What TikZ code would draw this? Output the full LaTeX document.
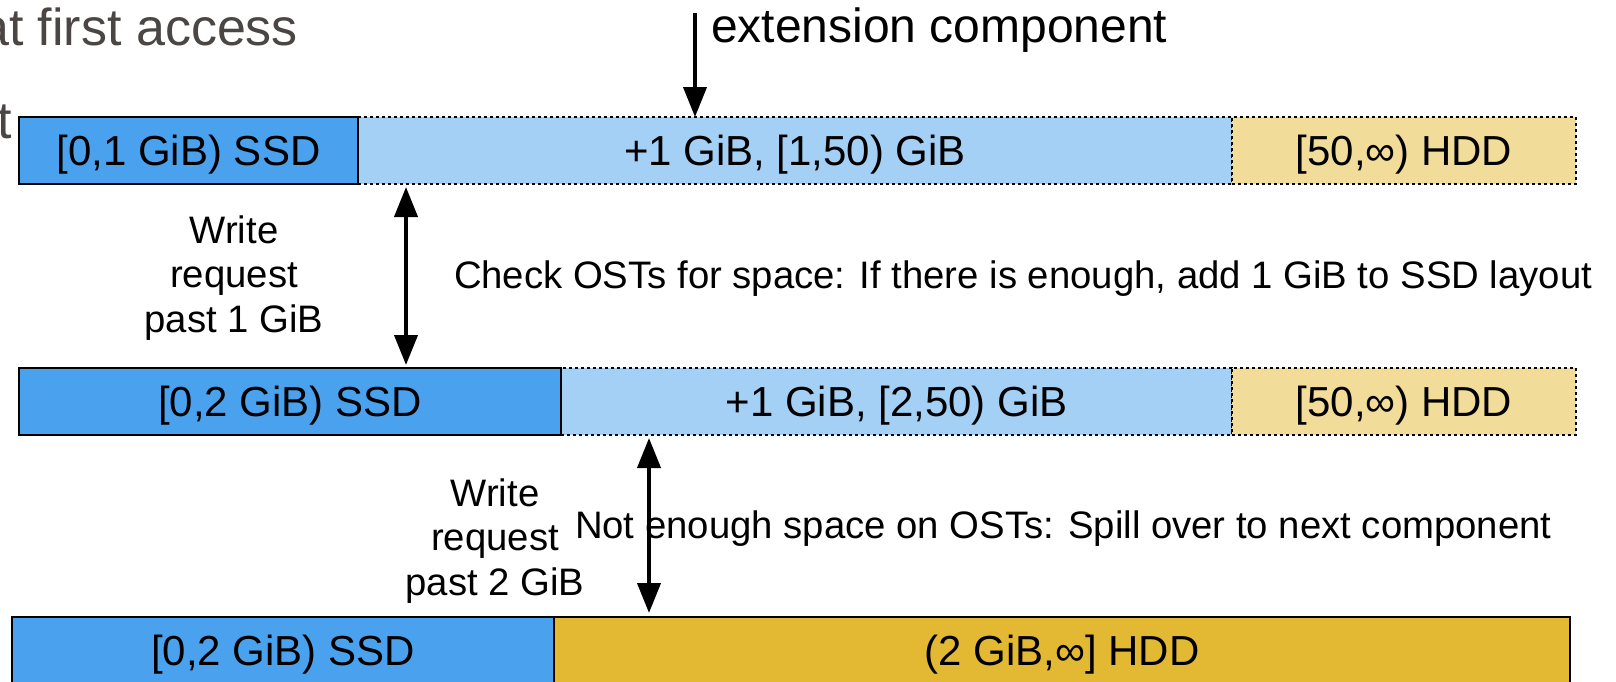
\documentclass[tikz,border=0pt]{standalone}
\usepackage{fontspec}
\setmainfont{Liberation Sans}
\usetikzlibrary{arrows.meta}
\definecolor{ssdblue}{RGB}{74,162,238}
\definecolor{extblue}{RGB}{164,208,245}
\definecolor{hddlight}{RGB}{242,220,154}
\definecolor{hdddark}{RGB}{227,184,51}
\definecolor{titlegray}{RGB}{75,70,67}
\newcommand\boxfont{\fontsize{42}{48}\selectfont}
\newcommand\lblfont{\fontsize{38.3}{44.5}\selectfont}
\newcommand\extfont{\fontsize{48}{56}\selectfont}
\newcommand\ttlfont{\fontsize{52}{60}\selectfont}
\tikzset{
  seg/.style={rectangle, inner sep=0pt, outer sep=0pt, font=\boxfont,
    text height=30pt, text depth=0pt, minimum height=67pt},
  solidseg/.style={seg, draw=black, line width=1.5pt},
  dashseg/.style={seg, draw=black, line width=1.5pt, dash pattern=on 3pt off 3pt},
  lbl/.style={inner sep=0pt, outer sep=0pt, font=\lblfont, text=black},
  ttl/.style={inner sep=0pt, outer sep=0pt, font=\ttlfont, text=titlegray},
  onearrow/.style={line width=4pt, -{Triangle[length=30pt,width=23pt]}},
  twoarrow/.style={line width=4pt, {Triangle[length=30pt,width=23pt]}-{Triangle[length=30pt,width=23pt]}},
}
\begin{document}
\begin{tikzpicture}[x=1pt,y=-1pt]
\useasboundingbox (0,0) rectangle (1616,681);
\clip (0,0) rectangle (1616,681);
\fill[white] (0,0) rectangle (1616,681);

% slide remnants
\node[ttl, anchor=base east] (title1) at (298,45) {at first access};
\node[ttl, anchor=base east] (title2) at (12,138) {t};

% row 1
\node[dashseg, fill=extblue, minimum width=874pt] (L1) at (795,150.5) {+1 GiB, [1,50) GiB};
\node[dashseg, fill=hddlight, minimum width=344pt] (H1) at (1404,150.5) {[50,∞) HDD};
\node[solidseg, fill=ssdblue, minimum width=339pt] (S1) at (188.5,150.5) {[0,1 GiB) SSD};

% row 2
\node[dashseg, fill=extblue, minimum width=671pt] (L2) at (896.5,401.5) {+1 GiB, [2,50) GiB};
\node[dashseg, fill=hddlight, minimum width=344pt] (H2) at (1404,401.5) {[50,∞) HDD};
\node[solidseg, fill=ssdblue, minimum width=542pt] (S2) at (290,401.5) {[0,2 GiB) SSD};

% row 3
\node[solidseg, fill=hdddark, minimum width=1016pt] (H3) at (1062,650.5) {(2 GiB,∞] HDD};
\node[solidseg, fill=ssdblue, minimum width=542pt] (S3) at (283,650.5) {[0,2 GiB) SSD};

% labels
\node[lbl, font=\extfont, anchor=base west] (extlbl) at (711,42) {extension component};
\node[lbl, anchor=base west] (check) at (454,288) {Check OSTs for space: If there is enough, add 1 GiB to SSD layout};
\node[lbl, anchor=base west] (spill) at (575,538) {Not enough space on OSTs: Spill over to next component};
\node[lbl, align=center, anchor=base] (wr1) at (234,332) {Write\\request\\past 1 GiB};
\node[lbl, align=center, anchor=base] (wr2) at (495,595) {Write\\request\\past 2 GiB};

% arrows
\coordinate (extstart) at (695,13);
\coordinate (a1) at (406,0);
\coordinate (a2) at (649,0);
\draw[onearrow] (extstart) -- (extstart |- L1.north);
\draw[twoarrow, shorten <=3pt, shorten >=3pt] (a1 |- L1.south) -- (a1 |- S2.north);
\draw[twoarrow, shorten <=3pt, shorten >=4pt] (a2 |- L2.south) -- (a2 |- H3.north);
\end{tikzpicture}
\end{document}
